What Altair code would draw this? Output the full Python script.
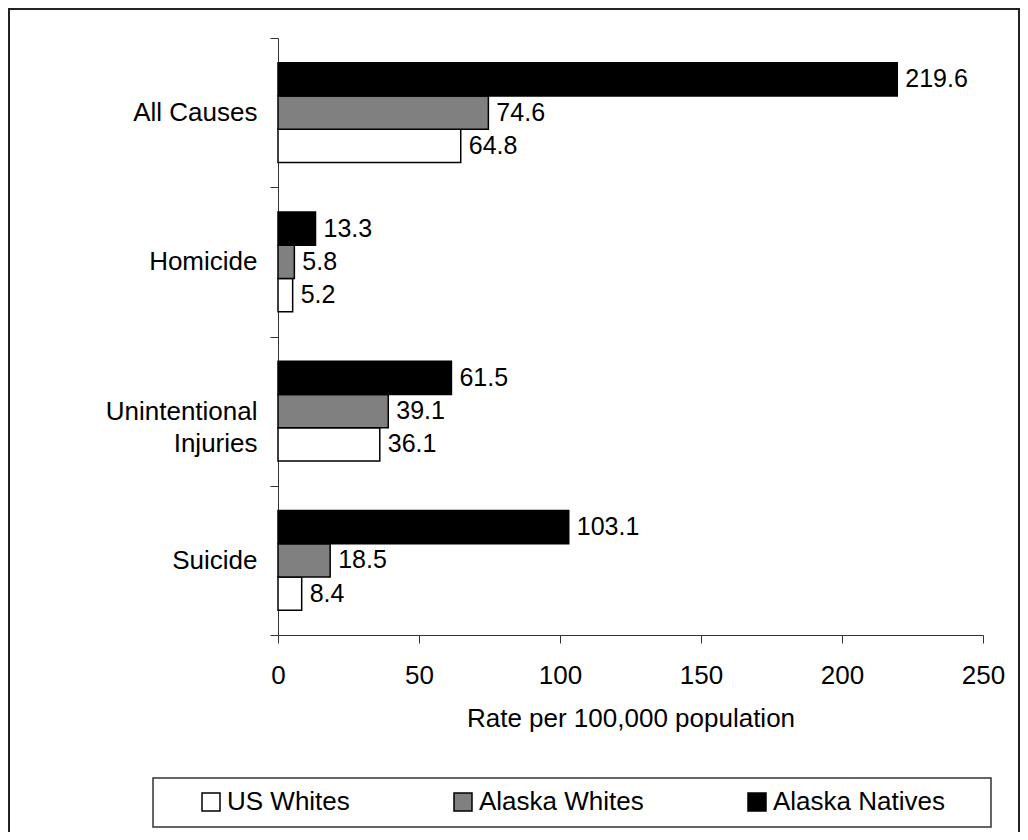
import altair as alt
import pandas as pd

causes = ["All Causes", "Homicide", "Unintentional Injuries", "Suicide"]
groups = ["US Whites", "Alaska Whites", "Alaska Natives"]
us_whites = [64.8, 5.2, 36.1, 8.4]
alaska_whites = [74.6, 5.8, 39.1, 18.5]
alaska_natives = [219.6, 13.3, 61.5, 103.1]
x_ticks = [0, 50, 100, 150, 200, 250]
colors = ["#ffffff", "#808080", "#000000"]

rows = []
for i, c in enumerate(causes):
    for g, vals in zip(groups, [us_whites, alaska_whites, alaska_natives]):
        rows.append({"cause": c, "group": g, "value": vals[i]})
df = pd.DataFrame(rows)

FONT = "Liberation Sans"

y_enc = alt.Y(
    "cause:N",
    sort=causes,
    scale=alt.Scale(paddingInner=0, paddingOuter=0),
    axis=alt.Axis(
        title=None,
        tickBand="extent",
        tickSize=8,
        labelPadding=13,
        labelFontSize=26,
        labelFont=FONT,
        labelColor="black",
        labelLineHeight=32,
        labelLimit=400,
        domainColor="#333333",
        tickColor="#333333",
        labelExpr="datum.value == 'Unintentional Injuries' ? ['Unintentional', 'Injuries\u00a0\u00a0\u00a0\u00a0\u00a0'] : datum.label",
    ),
)
yoff_enc = alt.YOffset(
    "group:N",
    sort=["Alaska Natives", "Alaska Whites", "US Whites"],
    scale=alt.Scale(paddingOuter=0.74, paddingInner=0),
)
x_enc = alt.X(
    "value:Q",
    scale=alt.Scale(domain=[0, 250], nice=False),
    axis=alt.Axis(
        values=x_ticks,
        grid=False,
        tickSize=8,
        labelPadding=19,
        labelFontSize=26,
        labelFont=FONT,
        labelColor="black",
        labelFlush=False,
        labelOverlap=False,
        domainColor="#333333",
        tickColor="#333333",
        title="Rate per 100,000 population",
        titleFont=FONT,
        titleFontSize=26,
        titleFontWeight="normal",
        titleColor="black",
        titleBaseline="top",
        titleY=70,
    ),
)

bars = alt.Chart(df).mark_bar(stroke="black", strokeWidth=1.5).encode(
    y=y_enc,
    yOffset=yoff_enc,
    x=x_enc,
    fill=alt.Fill(
        "group:N",
        scale=alt.Scale(domain=groups, range=colors),
        legend=alt.Legend(
            title=None,
            orient="none",
            legendX=-80,
            legendY=751,
            direction="horizontal",
            symbolType="square",
            symbolSize=324,
            symbolStrokeColor="black",
            symbolStrokeWidth=1.5,
            labelFont=FONT,
            labelFontSize=26,
            labelColor="black",
            labelLimit=400,
            labelOffset=3,
            columnPadding=100,
        ),
    ),
)

labels = alt.Chart(df).mark_text(
    align="left", baseline="middle", dx=8, fontSize=25, font=FONT, color="black"
).encode(
    y=alt.Y("cause:N", sort=causes),
    yOffset=alt.YOffset("group:N", sort=["Alaska Natives", "Alaska Whites", "US Whites"]),
    x=alt.X("value:Q"),
    text=alt.Text("value:Q", format=".1f"),
)

one = pd.DataFrame({"k": [0]})
border = alt.Chart(one).mark_rect(fill="transparent", stroke="#222222", strokeWidth=2).encode(
    x=alt.value(-269), x2=alt.value(741), y=alt.value(-29), y2=alt.value(900)
)
legend_box = alt.Chart(one).mark_rect(fill="white", stroke="#333333", strokeWidth=1.5).encode(
    x=alt.value(-125), x2=alt.value(713), y=alt.value(740), y2=alt.value(789)
)

chart = (
    alt.layer(border, legend_box, bars, labels)
    .properties(
        width=705,
        height=597,
        padding={"left": 270, "top": 30, "right": 37, "bottom": 197},
        autosize=alt.AutoSizeParams(type="none"),
        background="white",
    )
    .configure_view(stroke=None)
)

chart.save("out.html", embed_options={"renderer": "svg", "actions": False})
